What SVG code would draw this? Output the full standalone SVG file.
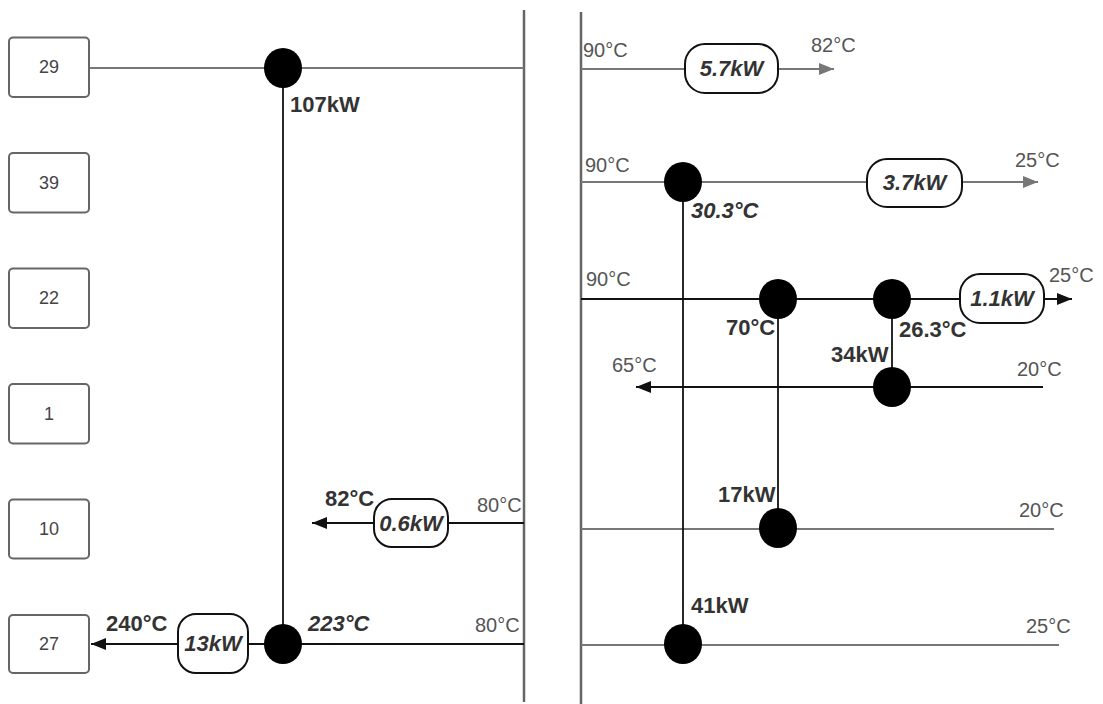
<svg xmlns="http://www.w3.org/2000/svg" width="1103" height="704" viewBox="0 0 1103 704">
<style>
.bg{fill:#fff}
.box{fill:#fff;stroke:#666;stroke-width:2}
.boxt{font-family:"Liberation Sans",Arial,sans-serif;font-size:18px;fill:#444;text-anchor:middle}
.div{stroke:#666;stroke-width:2.5;fill:none}
.gl{stroke:#777;stroke-width:2;fill:none}
.bl{stroke:#111;stroke-width:2;fill:none}
.vl{stroke:#111;stroke-width:1.8;fill:none}
.node{fill:#000}
.pill{fill:#fff;stroke:#111;stroke-width:2}
.pt{font-family:"Liberation Sans",Arial,sans-serif;font-size:22px;font-weight:bold;font-style:italic;fill:#333;text-anchor:middle}
.lr{font-family:"Liberation Sans",Arial,sans-serif;font-size:20px;fill:#555}
.lb{font-family:"Liberation Sans",Arial,sans-serif;font-size:22px;font-weight:bold;fill:#333}
.lbi{font-family:"Liberation Sans",Arial,sans-serif;font-size:22px;font-weight:bold;font-style:italic;fill:#333}
</style>
<defs>
<marker id="ag" markerUnits="userSpaceOnUse" markerWidth="16" markerHeight="14" refX="15" refY="7" orient="auto">
<path d="M0,1 L15,7 L0,13 Z" fill="#777"/>
</marker>
<marker id="ab" markerUnits="userSpaceOnUse" markerWidth="16" markerHeight="14" refX="15" refY="7" orient="auto">
<path d="M0,1 L15,7 L0,13 Z" fill="#111"/>
</marker>
</defs>
<rect class="bg" x="0" y="0" width="1103" height="704"/>

<g id="connectors">
<line class="div" x1="524" y1="10" x2="524" y2="702"/>
<line class="div" x1="581" y1="12" x2="581" y2="704"/>
<line class="gl" x1="89" y1="68" x2="524" y2="68"/>
<line class="vl" x1="283" y1="68" x2="283" y2="644"/>
<line class="bl" x1="524" y1="523" x2="312" y2="523" marker-end="url(#ab)"/>
<line class="bl" x1="524" y1="644" x2="91" y2="644" marker-end="url(#ab)"/>
<line class="gl" x1="581" y1="69" x2="834" y2="69" marker-end="url(#ag)"/>
<line class="gl" x1="581" y1="182" x2="1038" y2="182" marker-end="url(#ag)"/>
<line class="bl" x1="581" y1="299" x2="1072" y2="299" marker-end="url(#ab)"/>
<line class="bl" x1="1043" y1="387" x2="636" y2="387" marker-end="url(#ab)"/>
<line class="gl" x1="581" y1="529" x2="1054" y2="529"/>
<line class="gl" x1="581" y1="645" x2="1059" y2="645"/>
<line class="vl" x1="683" y1="182" x2="683" y2="645"/>
<line class="vl" x1="778" y1="299" x2="778" y2="528"/>
<line class="vl" x1="892" y1="299" x2="892" y2="387"/>
</g>

<g id="box29"><rect class="box" x="9" y="37.5" width="80" height="59.5" rx="4"/><text class="boxt" x="49" y="73">29</text></g>
<g id="box39"><rect class="box" x="9" y="153" width="80" height="59.5" rx="4"/><text class="boxt" x="49" y="189">39</text></g>
<g id="box22"><rect class="box" x="9" y="268.5" width="80" height="59.5" rx="4"/><text class="boxt" x="49" y="304">22</text></g>
<g id="box1"><rect class="box" x="9" y="384" width="80" height="59.5" rx="4"/><text class="boxt" x="49" y="420">1</text></g>
<g id="box10"><rect class="box" x="9" y="499.5" width="80" height="59" rx="4"/><text class="boxt" x="49" y="535">10</text></g>
<g id="box27"><rect class="box" x="9" y="615" width="80" height="58" rx="4"/><text class="boxt" x="49" y="650">27</text></g>

<g id="n29"><ellipse class="node" cx="283" cy="68" rx="19" ry="20"/><text class="lb" x="290" y="112">107kW</text></g>
<g id="n27"><ellipse class="node" cx="283" cy="644" rx="19" ry="20"/><text class="lbi" x="308" y="631">223°C</text></g>
<g id="p13"><rect class="pill" x="178" y="614" width="70" height="59" rx="18"/><text class="pt" x="213" y="651">13kW</text><text class="lb" x="106" y="631">240°C</text></g>
<g id="p06"><rect class="pill" x="374" y="499" width="74" height="48" rx="18"/><text class="pt" x="411" y="531">0.6kW</text><text class="lb" x="325" y="506">82°C</text></g>
<text class="lr" x="477" y="512">80°C</text>
<text class="lr" x="475" y="632">80°C</text>

<g id="p57"><rect class="pill" x="685" y="44" width="93" height="49" rx="20"/><text class="pt" x="731.5" y="76">5.7kW</text></g>
<text class="lr" x="583" y="57">90°C</text>
<text class="lr" x="811" y="52">82°C</text>

<g id="n30"><ellipse class="node" cx="683" cy="182" rx="19" ry="20"/><text class="lbi" x="691" y="218">30.3°C</text></g>
<g id="p37"><rect class="pill" x="867" y="159" width="95" height="48" rx="20"/><text class="pt" x="914.5" y="190">3.7kW</text></g>
<text class="lr" x="585" y="172">90°C</text>
<text class="lr" x="1015" y="167">25°C</text>

<g id="n70"><ellipse class="node" cx="778" cy="299" rx="19" ry="20"/><text class="lb" x="726" y="335">70°C</text></g>
<g id="n263"><ellipse class="node" cx="892" cy="299" rx="19" ry="20"/><text class="lb" x="899" y="337">26.3°C</text></g>
<g id="p11"><rect class="pill" x="960" y="274" width="84" height="49" rx="20"/><text class="pt" x="1002" y="306">1.1kW</text></g>
<text class="lr" x="586" y="286">90°C</text>
<text class="lr" x="1049" y="282">25°C</text>

<g id="n34"><ellipse class="node" cx="892" cy="387" rx="19" ry="20"/><text class="lb" x="831" y="362">34kW</text></g>
<text class="lr" x="612" y="372">65°C</text>
<text class="lr" x="1017" y="376">20°C</text>

<g id="n17"><ellipse class="node" cx="778" cy="528" rx="19" ry="20"/><text class="lb" x="718" y="502">17kW</text></g>
<text class="lr" x="1019" y="517">20°C</text>

<g id="n41"><ellipse class="node" cx="683" cy="644" rx="19" ry="20"/><text class="lb" x="691" y="613">41kW</text></g>
<text class="lr" x="1026" y="633">25°C</text>
</svg>
